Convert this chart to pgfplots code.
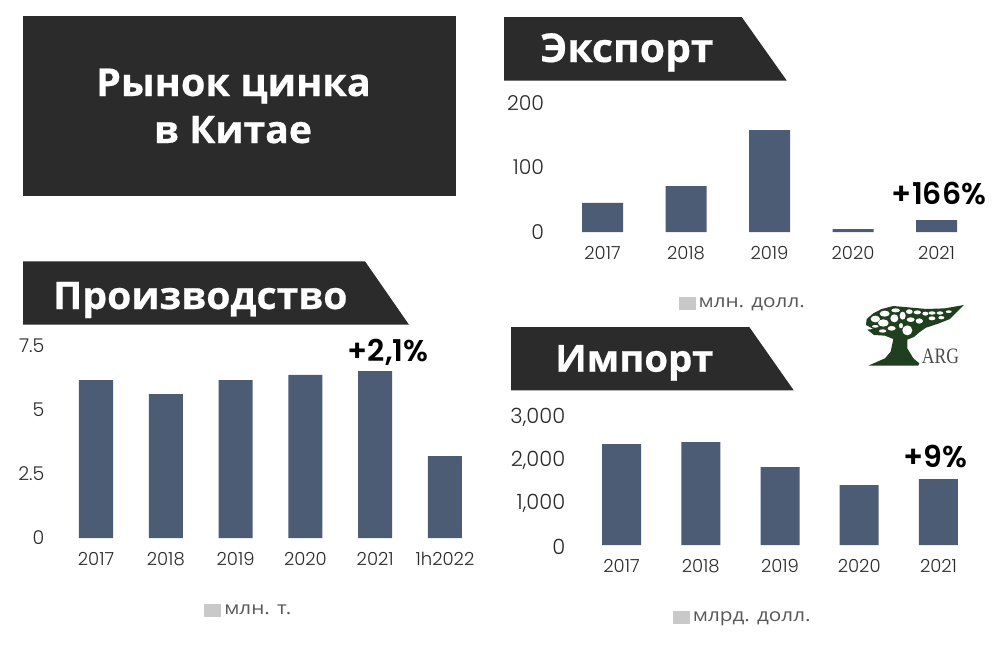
\documentclass[border=0pt]{standalone}
\usepackage{pgfplots}
\pgfplotsset{compat=1.18}
\usepackage{fontspec}
\setmainfont{Open Sans}[FakeStretch=1.15]
\newfontfamily\headff{Open Sans}[BoldFeatures={FakeStretch=1.03,FakeBold=0.5}]
\newcommand{\headf}{\headff\bfseries}
\newfontfamily\numf{Poppins}[UprightFont=*-Light]
\newfontfamily\numfb{Poppins}[UprightFont=*-SemiBold]
\newfontfamily\argf{Liberation Serif}[FakeStretch=0.8]
\newcommand{\fsz}[1]{\fontsize{#1bp}{#1bp}\selectfont}
\definecolor{bar}{HTML}{4C5C75}
\definecolor{dark}{HTML}{2B2B2B}
\definecolor{lg}{HTML}{C9C9C9}
\definecolor{ltxt}{HTML}{595959}
\definecolor{ttxt}{HTML}{2A2A2A}
\definecolor{tree}{HTML}{1F3F1F}
\pgfplotsset{
  mychart/.style={
    scale only axis, ybar, ymin=0, clip=false, anchor=south west,
    axis line style={draw=none}, major tick length=0pt, tick style={draw=none},
    xtick=data, enlargelimits=false,
    xticklabel style={anchor=center, yshift=-20.7bp, inner sep=0pt, font=\numf\fsz{18}, text=ttxt},
    yticklabel style={anchor=east, xshift=-16.5bp, yshift=0.2bp, inner sep=0pt, font=\numf\fsz{20.5}, text=ttxt},
    legend style={draw=none, fill=none, font=\fsz{18}, text=ltxt, anchor=center, inner sep=0pt, nodes={inner sep=3.5bp}},
    legend image code/.code={\fill[lg] (0bp,-6bp) rectangle (16bp,6bp);},
  },
  mybars/.style={fill=bar, draw=none, forget plot, bar shift=0pt},
}
\begin{document}
\begin{tikzpicture}
\path[use as bounding box, fill=white] (0,0) rectangle (1003bp,-645bp);
\begin{scope}[x=1bp,y=-1bp]
\fill[dark] (23,16) rectangle (456,196);
\fill[dark] (504,17) -- (741.7,17) -- (786.7,80.5) -- (504,80.5) -- cycle;
\fill[dark] (23,261.3) -- (365,261.3) -- (409,324.7) -- (23,324.7) -- cycle;
\fill[dark] (511,327) -- (749.3,327) -- (793.7,390.3) -- (511,390.3) -- cycle;
\node[anchor=base, white, font=\headf\fsz{38.5}, inner sep=0pt] at (233.5,96) {Рынок цинка};
\node[anchor=base, white, font=\headf\fsz{38}, inner sep=0pt] at (233,143) {в Китае};
\node[anchor=base west, white, font=\headf\fsz{39.8}, inner sep=0pt] at (540,62) {Экспорт};
\node[anchor=base west, white, font=\headf\fsz{38}, inner sep=0pt] at (53,309) {Производство};
\node[anchor=base west, white, font=\headf\fsz{37.3}, inner sep=0pt] at (555,371.7) {Импорт};
\node[font=\numfb\fsz{30}, inner sep=0pt] at (939,193.5) {+166\%};
\node[font=\numfb\fsz{30}, inner sep=0pt] at (388,352.5) {+2,1\%};
\node[font=\numfb\fsz{30}, inner sep=0pt] at (935,456.5) {+9\%};
% logo
\begin{scope}[shift={(850,295)}, x=0.3333bp, y=-0.3333bp]
\fill[tree] (50,72) -- (70,55) -- (95,42) -- (130,33) -- (175,37) -- (230,42) -- (285,40) -- (342,30) -- (320,52) -- (300,72) -- (265,86) -- (228,98) -- (208,112) -- (192,126) -- (172,134) -- (172,160) -- (190,190) -- (208,205) -- (205,212) -- (55,212) -- (105,190) -- (122,170) -- (130,132) -- (105,122) -- (72,120) -- (52,104) -- (70,102) -- (48,90) -- cycle;
\foreach \x/\y/\a/\b in {76/72/14/10,104/56/15/9,137/46/13/6,100/84/16/11,76/94/10/4,133/70/12/12,158/62/9/12,178/50/10/7,202/52/11/6,226/56/9/6,182/74/12/7,208/78/11/8,246/54/11/5,270/54/10/5,296/50/9/4,246/70/10/6,274/68/9/5,172/106/15/15,125/100/12/7,98/108/11/5,153/92/6/8}
  \fill[white] (\x,\y) ellipse ({\a} and {\b});
\node[anchor=base west, font=\argf\fsz{22}, text=black!70, inner sep=0pt] at (215,207) {ARG};
\end{scope}
\end{scope}

% Export
\begin{axis}[mychart, at={(560.75bp,-232bp)}, width=417.5bp, height=129bp,
  bar width=41bp, xmin=-0.5, xmax=4.5, ymax=200,
  xticklabels={2017,2018,2019,2020,2021},
  ytick={0,100,200}, yticklabels={0,100,200},
  legend style={at={(0.4377,-0.55)}}]
\addplot[mybars] coordinates {(0,45)(1,71.3)(2,158)(3,4.6)(4,18.6)};
\addlegendimage{fill=lg}
\addlegendentry{млн. долл.}
\end{axis}

% Production
\begin{axis}[mychart, at={(61.1bp,-538bp)}, width=418.8bp, height=192bp,
  bar width=34bp, xmin=-0.5, xmax=5.5, ymax=7.5,
  xticklabels={2017,2018,2019,2020,2021,1h2022},
  ytick={0,2.5,5,7.5}, yticklabels={0,2.5,5,7.5},
  yticklabel style={yshift=0.5bp, font=\numf\fsz{19}},
  legend style={at={(0.45,-0.375)}}]
\addplot[mybars] coordinates {(0,6.17)(1,5.62)(2,6.17)(3,6.37)(4,6.52)(5,3.2)};
\addlegendimage{fill=lg}
\addlegendentry{млн. т.}
\end{axis}

% Import
\begin{axis}[mychart, at={(581.9bp,-545bp)}, width=396.2bp, height=129bp,
  bar width=39bp, xmin=-0.5, xmax=4.5, ymax=3000,
  xticklabels={2017,2018,2019,2020,2021},
  ytick={0,1000,2000,3000}, yticklabels={0,{1,000},{2,000},{3,000}},
  yticklabel style={yshift=-1.8bp, font=\numf\fsz{21}},
  legend style={at={(0.408,-0.558)}}]
\addplot[mybars] coordinates {(0,2349)(1,2395)(2,1814)(3,1395)(4,1535)};
\addlegendimage{fill=lg}
\addlegendentry{млрд. долл.}
\end{axis}
\end{tikzpicture}
\end{document}
